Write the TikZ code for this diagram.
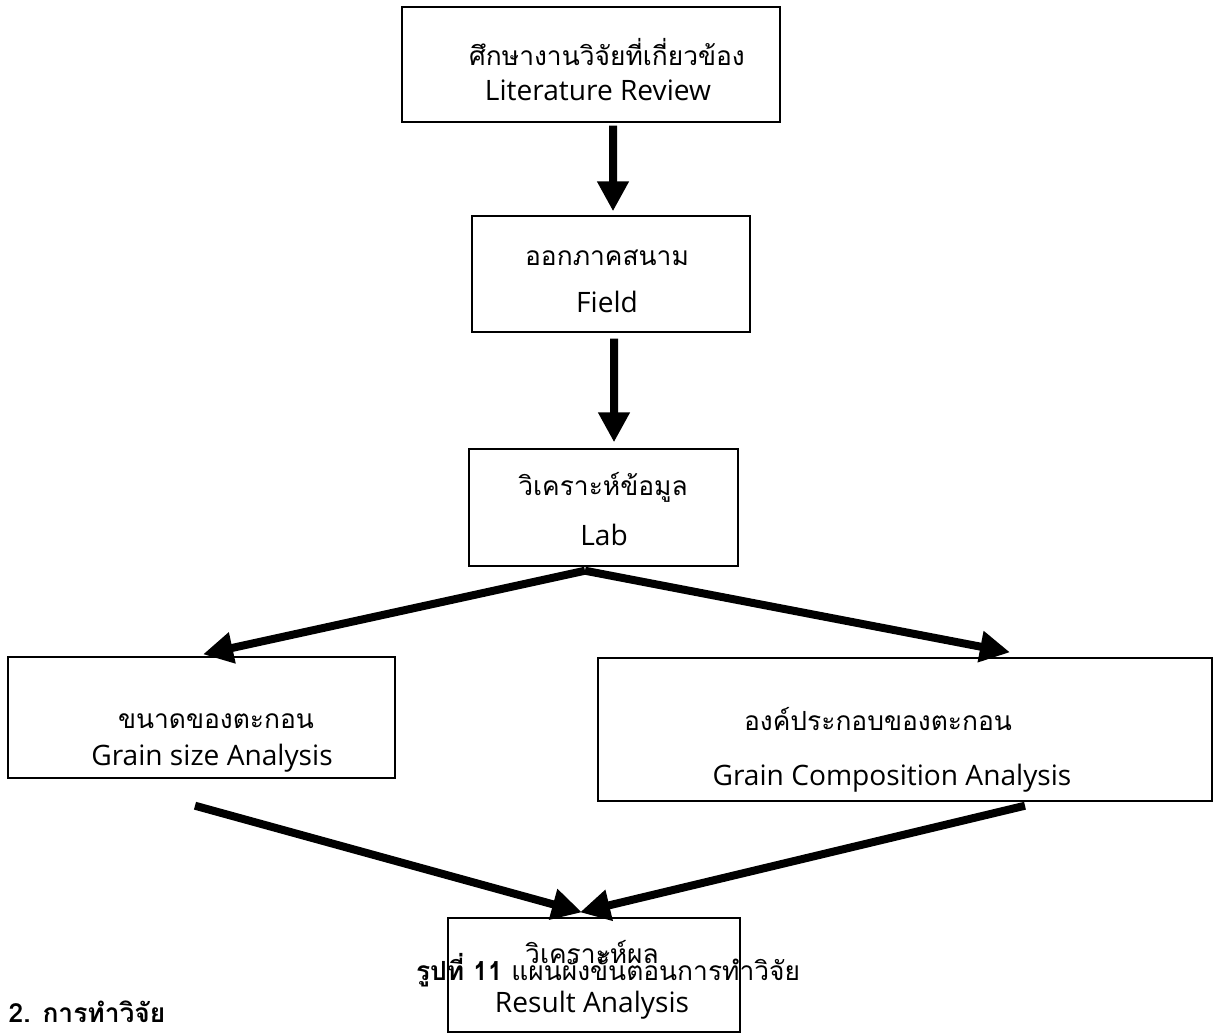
\documentclass[tikz,border=0pt]{standalone}
\usepackage{fontspec}
\setmainfont{Open Sans}
\newfontfamily\thaifont[Script=Thai]{Loma}
\usetikzlibrary{arrows.meta}

\begin{document}
\begin{tikzpicture}[x=.2mm,y=-.2mm,line width=.8pt,font=\fontsize{16}{19}\selectfont,
  stepbox/.style={draw,inner sep=0pt},
  steptext/.style={anchor=base,inner sep=0pt},
  thaitext/.style={steptext,font=\thaifont\fontsize{15}{18}\selectfont},
  bigarrow/.style={line width=1.6mm,-{Triangle[width=6mm,length=6mm]}}]
\useasboundingbox (0,0) rectangle (1215,1034);
\node[stepbox,minimum width=75.6mm,minimum height=23mm] (lit) at (591,64.5) {};
\node[stepbox,minimum width=55.6mm,minimum height=23.2mm] (field) at (611,274) {};
\node[stepbox,minimum width=53.8mm,minimum height=23.4mm] (lab) at (603.5,507.5) {};
\node[stepbox,minimum width=77.4mm,minimum height=24.2mm] (gsize) at (201.5,717.5) {};
\node[stepbox,minimum width=122.8mm,minimum height=28.6mm] (gcomp) at (905,729.5) {};
\node[stepbox,minimum width=58.4mm,minimum height=22.8mm] (result) at (594,975) {};
\node[thaitext] (litth) at (607,65) {ศึกษางานวิจัยที่เกี่ยวข้อง};
\node[steptext] (liten) at (598,100) {Literature Review};
\node[thaitext] (fieldth) at (607,265) {ออกภาคสนาม};
\node[steptext] (fielden) at (607,312) {Field};
\node[thaitext] (labth) at (603,495) {วิเคราะห์ข้อมูล};
\node[steptext] (laben) at (604,545) {Lab};
\node[thaitext] (gsizeth) at (216,728) {ขนาดของตะกอน};
\node[steptext] (gsizeen) at (212,765) {Grain size Analysis};
\node[thaitext] (gcompth) at (878,730) {องค์ประกอบของตะกอน};
\node[steptext] (gcompen) at (892,785) {Grain Composition Analysis};
\node[thaitext] (resultth) at (592,963) {วิเคราะห์ผล};
\node[steptext] (resulten) at (592,1012) {Result Analysis};
\node[thaitext] (caption) at (608,980) {\textbf{รูปที่ 11} แผนผังขั้นตอนการทำวิจัย};
\node[thaitext,anchor=base west] (section) at (8,1022) {\textbf{2. การทำวิจัย}};
\coordinate (split) at ([xshift=-3.7mm,yshift=-.8mm]lab.south);
\draw[bigarrow] ([xshift=4.4mm,yshift=-.6mm]lit.south) -- ([xshift=.4mm,yshift=.8mm]field.north);
\draw[bigarrow] ([xshift=.6mm,yshift=-1.2mm]field.south) -- ([xshift=2.1mm,yshift=1.2mm]lab.north);
\draw[bigarrow] (split) -- ([xshift=.3mm,yshift=.4mm]gsize.north);
\draw[bigarrow] (split) -- ([xshift=21mm,yshift=1mm]gcomp.north);
\draw[bigarrow] ([xshift=-1.3mm,yshift=-5.4mm]gsize.south) -- ([xshift=-2.4mm,yshift=1mm]result.north);
\draw[bigarrow] ([xshift=24mm,yshift=-.8mm]gcomp.south) -- ([xshift=-2.8mm,yshift=1mm]result.north);
\end{tikzpicture}
\end{document}
